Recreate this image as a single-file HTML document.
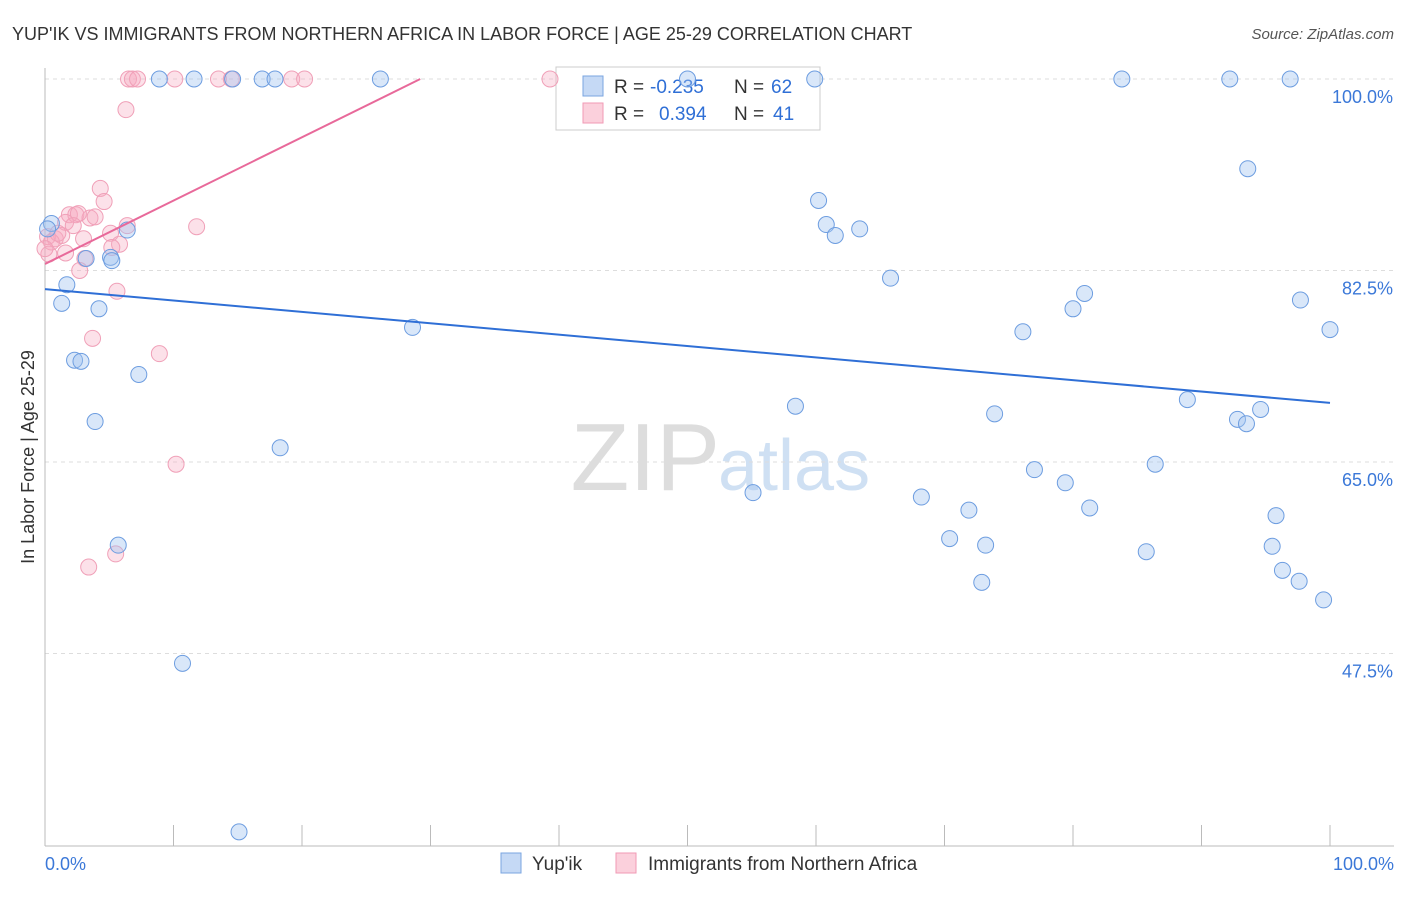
<!DOCTYPE html>
<html><head><meta charset="utf-8"><style>
body{margin:0;background:#fff;font-family:"Liberation Sans",sans-serif;}
svg text{font-family:"Liberation Sans",sans-serif;}
</style></head><body>
<svg id="c" width="1406" height="892">
<text x="12" y="40" font-size="18" fill="#333">YUP'IK VS IMMIGRANTS FROM NORTHERN AFRICA IN LABOR FORCE | AGE 25-29 CORRELATION CHART</text>
<text x="1394" y="39" font-size="15" fill="#555" text-anchor="end" font-style="italic">Source: ZipAtlas.com</text>
<text x="720" y="490" font-size="96" fill="#ddd" text-anchor="end" font-family="Liberation Serif">ZIP</text>
<text x="718" y="490" font-size="72" fill="#cfe0f3">atlas</text>
<text transform="translate(34,457) rotate(-90)" font-size="18" fill="#333" text-anchor="middle">In Labor Force | Age 25-29</text>
<g id="grid"></g><g id="ticks"></g>
<g>
<rect x="556" y="67" width="264" height="63" fill="#fff" stroke="#ccc"/>
<rect x="583" y="76" width="20" height="20" fill="#c5d9f5" stroke="#7aa5e0"/>
<rect x="583" y="103" width="20" height="20" fill="#fbd0dc" stroke="#f09ab5"/>
<text y="93" font-size="19" fill="#333"><tspan x="614">R =</tspan><tspan x="650" fill="#2f6fd6">-0.235</tspan><tspan x="734">N =</tspan><tspan x="771" fill="#2f6fd6">62</tspan></text>
<text y="120" font-size="19" fill="#333"><tspan x="614">R =</tspan><tspan x="659" fill="#2f6fd6">0.394</tspan><tspan x="734">N =</tspan><tspan x="773" fill="#2f6fd6">41</tspan></text>
</g>
<g id="pts"></g><g id="lines"></g>
<g>
<rect x="501" y="853" width="20" height="20" fill="#c5d9f5" stroke="#7aa5e0"/>
<text x="532" y="870" font-size="19" fill="#333">Yup'ik</text>
<rect x="616" y="853" width="20" height="20" fill="#fbd0dc" stroke="#f09ab5"/>
<text x="648" y="870" font-size="19" fill="#333">Immigrants from Northern Africa</text>
</g>
<text x="45" y="870" font-size="18" fill="#3b78d8">0.0%</text>
<text x="1394" y="870" font-size="18" fill="#3b78d8" text-anchor="end">100.0%</text>
</svg>
<script>
const yTicks=[100,82.5,65,47.5];
const yTickLabels=["100.0%","82.5%","65.0%","47.5%"];
const xTicks=[0,10,20,30,40,50,60,70,80,90,100];
const blueX=[8.9,11.6,14.6,16.9,17.9,26.1,50.0,59.9,83.8,92.2,96.9,93.6,60.2,60.8,61.5,63.4,6.4,3.2,5.1,5.2,1.7,1.3,4.2,65.8,80.9,80.0,97.7,100,76.1,28.6,2.3,2.8,7.3,3.9,58.4,73.9,88.9,92.8,93.5,94.6,18.3,77.0,79.4,86.4,55.1,68.2,71.9,81.3,95.8,70.4,73.2,5.7,85.7,95.5,96.3,97.6,72.9,99.5,10.7,15.1,0.5,0.2];
const blueY=[100,100,100,100,100,100,100,100,100,100,100,91.8,88.9,86.7,85.7,86.3,86.2,83.6,83.7,83.4,81.2,79.5,79.0,81.8,80.4,79.0,79.8,77.1,76.9,77.3,74.3,74.2,73.0,68.7,70.1,69.4,70.7,68.9,68.5,69.8,66.3,64.3,63.1,64.8,62.2,61.8,60.6,60.8,60.1,58.0,57.4,57.4,56.8,57.3,55.1,54.1,54.0,52.4,46.6,31.2,86.8,86.3];
const pinkX=[6.5,6.8,7.2,10.1,13.5,14.5,19.2,20.2,39.3,6.3,4.3,4.6,1.9,2.4,3.5,2.6,3.9,6.4,11.8,1.6,2.2,5.1,0.2,0.8,1.3,0.5,3.0,5.8,5.2,1.6,3.1,2.7,5.6,3.7,8.9,10.2,5.5,3.4,0.3,0,1.0];
const pinkY=[100,100,100,100,100,100,100,100,100,97.2,90.0,88.8,87.6,87.6,87.3,87.7,87.4,86.6,86.5,86.9,86.6,85.9,85.6,85.4,85.7,85.1,85.4,84.9,84.6,84.1,83.6,82.5,80.6,76.3,74.9,64.8,56.6,55.4,84.0,84.5,85.9];
const blueTrend=[[0,80.8],[100,70.4]];
const pinkTrend=[[0,83.1],[29.2,100]];
const X=v=>45+v*12.85, Y=v=>79+(100-v)*10.943;
const NS="http://www.w3.org/2000/svg";
function mk(t,a,p){const e=document.createElementNS(NS,t);for(const k in a)e.setAttribute(k,a[k]);document.getElementById(p).appendChild(e);return e;}
yTicks.forEach((t,i)=>{
 const l=mk('line',{x1:45,x2:1394,y1:Y(t),y2:Y(t),stroke:'#ddd','stroke-dasharray':'4,4'},'grid');
 
 
 const tx=mk('text',{x:1393,y:Y(t)+24,'font-size':18,fill:'#3b78d8','text-anchor':'end'},'ticks');
 tx.textContent=yTickLabels[i];
 
 
});
mk('line',{x1:45,x2:1394,y1:Y(30)+1,y2:Y(30)+1,stroke:'#bbb'},'grid');
mk('line',{x1:45,x2:45,y1:68,y2:Y(30)+1,stroke:'#bbb'},'grid');
xTicks.forEach(t=>{
 const l=mk('line',{x1:X(t),x2:X(t),y1:Y(30)-20,y2:Y(30)+1,stroke:'#bbb'},'ticks');
 
 
});
pinkX.forEach((v,i)=>{
 const c=mk('circle',{cx:X(v),cy:Y(pinkY[i]),r:8,fill:'rgba(246,168,192,0.35)',stroke:'#f0a0b8','stroke-width':1},'pts');
 
 
});
blueX.forEach((v,i)=>{
 const c=mk('circle',{cx:X(v),cy:Y(blueY[i]),r:8,fill:'rgba(160,195,240,0.4)',stroke:'#6d9de0','stroke-width':1},'pts');
 
 
});
const bl=mk('line',{x1:X(blueTrend[0][0]),y1:Y(blueTrend[0][1]),x2:X(blueTrend[1][0]),y2:Y(blueTrend[1][1]),stroke:'#2f6fd6','stroke-width':2},'lines');


const pl=mk('line',{x1:X(pinkTrend[0][0]),y1:Y(pinkTrend[0][1]),x2:X(pinkTrend[1][0]),y2:Y(pinkTrend[1][1]),stroke:'#e8699a','stroke-width':2},'lines');


</script>
</body></html>
